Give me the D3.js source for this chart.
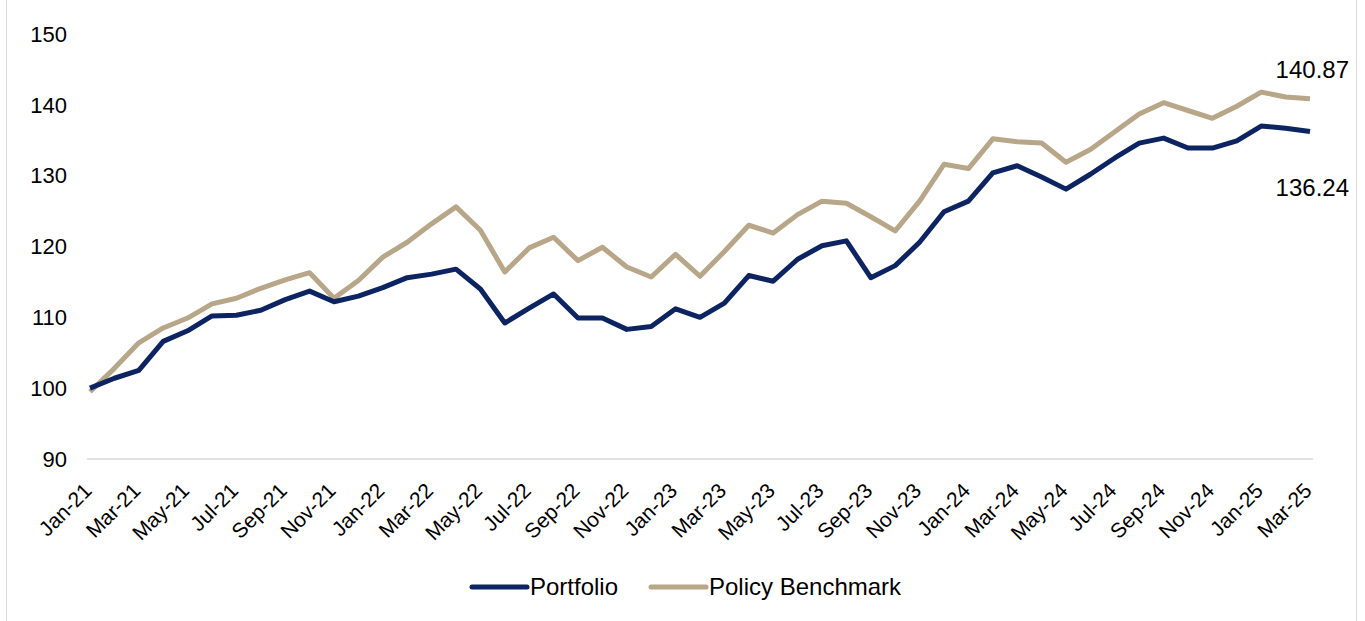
<!DOCTYPE html>
<html>
<head>
<meta charset="utf-8">
<script src="https://cdn.jsdelivr.net/npm/d3@7"></script>
<style>
  body { margin: 0; background: #fff; }
  svg { display: block; font-family: "Liberation Sans", Arial, sans-serif; }
</style>
</head>
<body>
<svg width="1365" height="621"></svg>
<script>
const months = ['Jan-21','Feb-21','Mar-21','Apr-21','May-21','Jun-21','Jul-21','Aug-21','Sep-21','Oct-21','Nov-21','Dec-21',
  'Jan-22','Feb-22','Mar-22','Apr-22','May-22','Jun-22','Jul-22','Aug-22','Sep-22','Oct-22','Nov-22','Dec-22',
  'Jan-23','Feb-23','Mar-23','Apr-23','May-23','Jun-23','Jul-23','Aug-23','Sep-23','Oct-23','Nov-23','Dec-23',
  'Jan-24','Feb-24','Mar-24','Apr-24','May-24','Jun-24','Jul-24','Aug-24','Sep-24','Oct-24','Nov-24','Dec-24',
  'Jan-25','Feb-25','Mar-25']

const portfolio = [100.0,101.4,102.5,106.6,108.1,110.2,110.3,111.0,112.5,113.7,112.2,113.0,
  114.2,115.6,116.1,116.8,114.0,109.2,111.3,113.3,109.9,109.9,108.3,108.7,
  111.2,110.0,112.0,115.9,115.1,118.2,120.1,120.8,115.6,117.3,120.6,124.9,
  126.4,130.4,131.4,129.8,128.1,130.2,132.5,134.6,135.3,133.9,133.9,134.9,
  137.0,136.7,136.24]

const benchmark = [99.5,102.8,106.4,108.5,109.9,111.9,112.7,114.1,115.3,116.3,112.7,115.2,
  118.5,120.6,123.2,125.6,122.3,116.4,119.8,121.3,118.0,119.9,117.1,115.7,
  118.9,115.8,119.3,123.0,121.9,124.5,126.4,126.1,124.2,122.2,126.4,131.6,
  131.0,135.2,134.8,134.6,131.9,133.7,136.2,138.7,140.3,139.2,138.1,139.8,
  141.8,141.1,140.87]

const yTicks = [90, 100, 110, 120, 130, 140, 150]
const seriesNames = ['Portfolio', 'Policy Benchmark']
const colors = ['#0c2461', '#b8a688']

const svg = d3.select('svg')

// light frame around the chart area
svg.append('rect')
  .attr('x', 6.5).attr('y', -2).attr('width', 1350).attr('height', 630)
  .attr('fill', 'none').attr('stroke', '#d9d9d9').attr('stroke-width', 1)

const x = d3.scalePoint().domain(months).range([90, 1310])
const y = d3.scaleLinear().domain([90, 150]).range([459, 34])

// bottom axis line
svg.append('line')
  .attr('x1', 87).attr('x2', 1313)
  .attr('y1', y(90)).attr('y2', y(90))
  .attr('stroke', '#d9d9d9').attr('stroke-width', 1.5)

// y labels
svg.append('g').selectAll('text')
  .data(yTicks)
  .enter().append('text')
  .attr('x', 67)
  .attr('y', d => y(d))
  .attr('dy', '0.35em')
  .attr('text-anchor', 'end')
  .style('font-size', '22px')
  .style('fill', '#000')
  .text(d => d)

// x labels, every other month, rotated
svg.append('g').selectAll('text')
  .data(months.filter((m, i) => i % 2 === 0))
  .enter().append('text')
  .attr('transform', d => `translate(${x(d) + 3},${y(90) + 33}) rotate(-45)`)
  .attr('text-anchor', 'end')
  .style('font-size', '21px')
  .style('fill', '#000')
  .text(d => d)

const line = d3.line()
  .x((d, i) => x(months[i]))
  .y(d => y(d))

// benchmark drawn first so portfolio sits on top
svg.append('path')
  .datum(benchmark)
  .attr('d', line)
  .attr('fill', 'none')
  .attr('stroke', colors[1])
  .attr('stroke-width', 5)
  .attr('stroke-linejoin', 'round')

svg.append('path')
  .datum(portfolio)
  .attr('d', line)
  .attr('fill', 'none')
  .attr('stroke', colors[0])
  .attr('stroke-width', 5)
  .attr('stroke-linejoin', 'round')

// end labels
const last = months.length - 1
svg.append('text')
  .attr('x', 1349).attr('y', y(benchmark[last]) - 21)
  .attr('text-anchor', 'end')
  .style('font-size', '24px')
  .text(benchmark[last].toFixed(2))

svg.append('text')
  .attr('x', 1349).attr('y', y(portfolio[last]) + 65)
  .attr('text-anchor', 'end')
  .style('font-size', '24px')
  .text(portfolio[last].toFixed(2))

// legend
const legendX = [472, 651]
const legend = svg.append('g').selectAll('g')
  .data(seriesNames)
  .enter().append('g')
  .attr('transform', (d, i) => `translate(${legendX[i]},587)`)

legend.append('line')
  .attr('x1', 0).attr('x2', 55)
  .attr('stroke', (d, i) => colors[i])
  .attr('stroke-width', 5)
  .attr('stroke-linecap', 'round')

legend.append('text')
  .attr('x', 58)
  .attr('y', 8)
  .style('font-size', '24px')
  .text(d => d)
</script>
</body>
</html>
